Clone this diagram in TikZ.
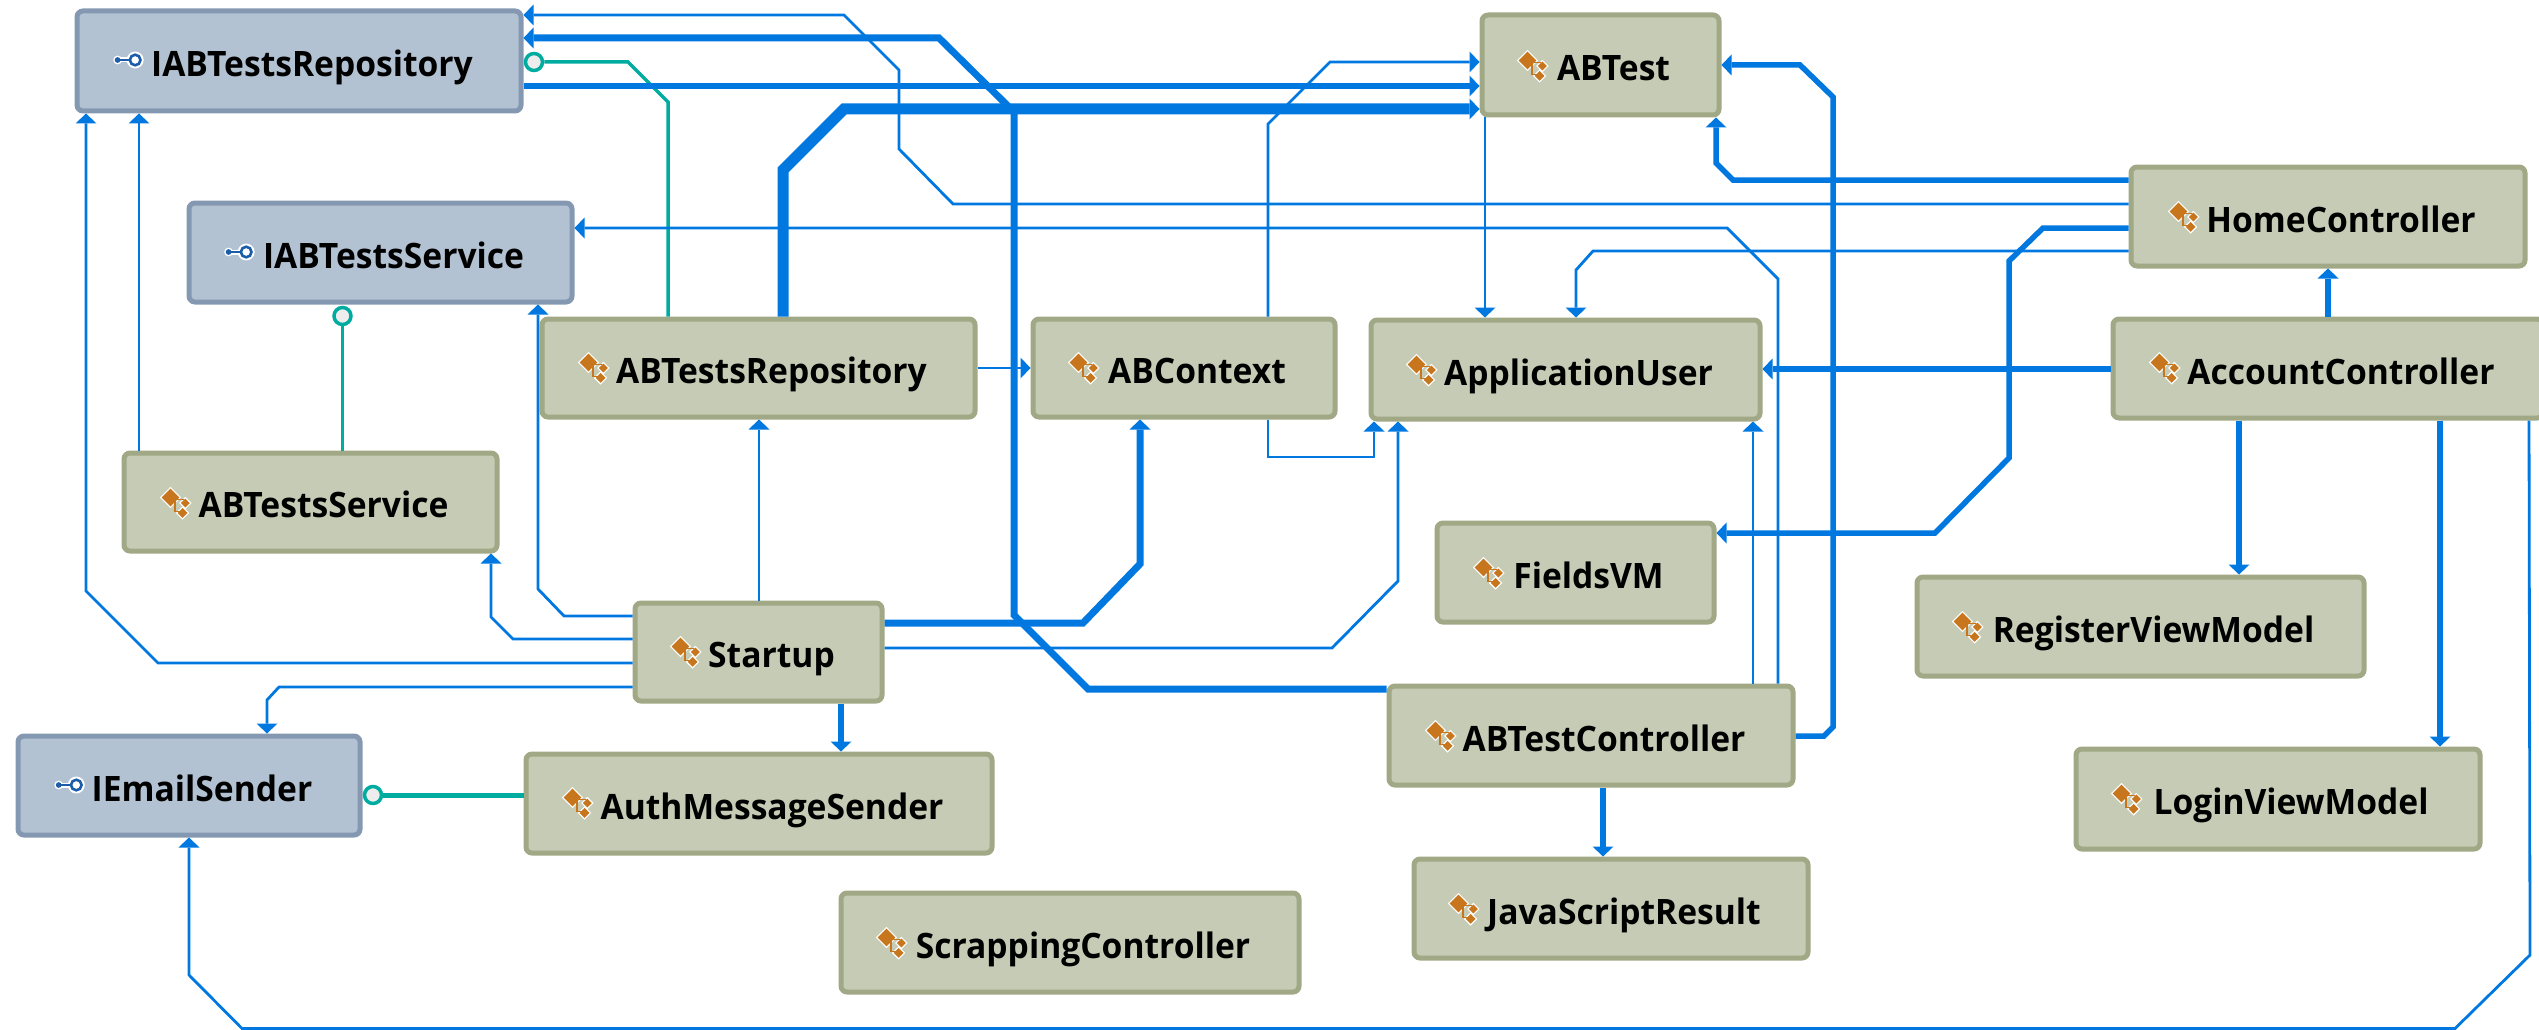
\documentclass[tikz,border=0pt]{standalone}
\usepackage{fontspec}
\setmainfont{Open Sans}[FakeStretch=0.96]
\usetikzlibrary{arrows.meta}
\definecolor{wireblue}{RGB}{0,120,224}
\definecolor{lollyteal}{RGB}{0,172,160}
\definecolor{ifill}{RGB}{178,194,211}
\definecolor{iedge}{RGB}{132,153,177}
\definecolor{cfill}{RGB}{198,203,181}
\definecolor{cedge}{RGB}{161,168,134}
\definecolor{iconor}{RGB}{200,118,30}
\definecolor{iconbl}{RGB}{27,93,168}
\tikzset{
  boxbase/.style={draw,rectangle,rounded corners=6pt,line width=5pt,outer sep=2.5pt,inner sep=0pt,
    text=black,font=\fontsize{35}{38}\selectfont\bfseries,text height=33pt,text depth=2pt},
  classbox/.style={boxbase,fill=cfill,draw=cedge},
  ifacebox/.style={boxbase,fill=ifill,draw=iedge},
  wire/.style={draw=wireblue,line join=miter,-{Triangle[length=10pt,width=21pt,line width=0pt]}},
  wirea/.style={wire,line width=2.8pt},
  wireb/.style={wire,line width=5.5pt},
  wirec/.style={wire,line width=7pt},
  wired/.style={wire,line width=11pt},
  lolly/.style={draw=lollyteal,line join=miter},
  lollyhead/.style={circle,draw=lollyteal,fill=white!93!black,line width=3.5pt,minimum size=17pt,inner sep=0pt,outer sep=1.75pt},
  classicon/.pic={
    \foreach \c/\r in {{-5,-5}/8,{8.5,0}/4,{6,9}/4.5}{
      \begin{scope}[shift={(\c)}]
        \draw[white,line width=2.5pt,fill=white] (-\r,0)--(0,-\r)--(\r,0)--(0,\r)--cycle;
      \end{scope}
    }
    \draw[iconor,line width=1.2pt] (-1,-4)--(-1,8)--(4,8) (-1,-3)--(7,-3);
    \foreach \c/\r in {{-5,-5}/8,{8.5,0}/4,{6,9}/4.5}{
      \begin{scope}[shift={(\c)}]
        \fill[iconor] (-\r,0)--(0,-\r)--(\r,0)--(0,\r)--cycle;
      \end{scope}
    }
  },
  ifaceicon/.pic={
    \draw[white,line width=5pt] (-9,0)--(2,0);
    \draw[white,line width=1.5pt,fill=white] (7,0) circle (7);
    \fill[white] (-9,0) circle (4);
    \draw[iconbl,line width=2pt] (-9,0)--(2,0);
    \fill[iconbl] (-9,0) circle (2.6);
    \draw[iconbl,line width=2.6pt,fill=white] (7,0) circle (4.8);
  }
}
\begin{document}
\begin{tikzpicture}[x=1pt,y=-1pt]
\useasboundingbox (0,0) rectangle (2539,1030);
% interfaces
\node[ifacebox,minimum width=444pt,minimum height=100pt] (irepo) at (299,61) {\hspace*{26pt}IABTestsRepository};
\node[ifacebox,minimum width=383pt,minimum height=99pt] (isvc) at (380.5,252.5) {\hspace*{26pt}IABTestsService};
\node[ifacebox,minimum width=342pt,minimum height=99pt] (iemail) at (189,785.5) {\hspace*{26pt}IEmailSender};
% classes
\node[classbox,minimum width=433pt,minimum height=98pt] (repo) at (758.5,368) {\hspace*{26pt}ABTestsRepository};
\node[classbox,minimum width=373pt,minimum height=98pt] (svc) at (310.5,502) {\hspace*{26pt}ABTestsService};
\node[classbox,minimum width=237pt,minimum height=100pt] (abtest) at (1600.5,65) {\hspace*{26pt}ABTest};
\node[classbox,minimum width=302pt,minimum height=98pt] (ctx) at (1184,368) {\hspace*{26pt}ABContext};
\node[classbox,minimum width=389pt,minimum height=99pt] (appuser) at (1565.5,369.5) {\hspace*{26pt}ApplicationUser};
\node[classbox,minimum width=394pt,minimum height=99pt] (home) at (2328,216.5) {\hspace*{26pt}HomeController};
\node[classbox,minimum width=430pt,minimum height=99pt] (account) at (2328,368.5) {\hspace*{26pt}AccountController};
\node[classbox,minimum width=247pt,minimum height=98pt] (startup) at (758.5,652) {\hspace*{26pt}Startup};
\node[classbox,minimum width=466pt,minimum height=99pt] (auth) at (759,803.5) {\hspace*{26pt}AuthMessageSender};
\node[classbox,minimum width=458pt,minimum height=99pt] (scrap) at (1070,942.5) {\hspace*{26pt}ScrappingController};
\node[classbox,minimum width=277pt,minimum height=99pt] (fields) at (1575.5,572.5) {\hspace*{26pt}FieldsVM};
\node[classbox,minimum width=447pt,minimum height=99pt] (register) at (2140.5,626.5) {\hspace*{26pt}RegisterViewModel};
\node[classbox,minimum width=404pt,minimum height=100pt] (login) at (2278,799) {\hspace*{26pt}LoginViewModel};
\node[classbox,minimum width=404pt,minimum height=99pt] (abctrl) at (1591,735.5) {\hspace*{26pt}ABTestController};
\node[classbox,minimum width=394pt,minimum height=99pt] (js) at (1611,908.5) {\hspace*{26pt}JavaScriptResult};
% icons
\foreach \p in {{127.5,60},{238.5,252},{68.6,785}} \pic[scale=1.1] at (\p) {ifaceicon};
\foreach \p in {{594,368},{176,503},{1533,66},{1084,368},{1422,370},{2184,217},{2165,368},{686,652},{578,803},{892,943},{1489,573},{1968,627},{2127,799},{1441,736},{1464,909}} \pic[scale=1.1] at (\p) {classicon};
% lollipops
\node[lollyhead] (lolrepo) at (534,62) {};
\node[lollyhead] (lolsvc) at (342.5,316) {};
\node[lollyhead] (lolemail) at (373,795) {};
\draw[lolly,line width=3.5pt] (repo.north -| 668,0) -- (668,102) -- (628,62) -- (lolrepo);
\draw[lolly,line width=3.5pt] (svc.north -| 342.5,0) -- (lolsvc);
\draw[lolly,line width=5pt] (auth.west |- 0,795) -- (lolemail);
% thin connectors
\draw[wirea] (home.west |- 0,204) -- (953,204) -- (899,149) -- (899,70) -- (844,15) -- (irepo.east |- 0,15);
\draw[wirea] (abctrl.north -| 1778,0) -- (1778,279) -- (1727,228) -- (isvc.east |- 0,228);
\draw[wirea] (abctrl.north -| 1753,0) -- (appuser.south -| 1753,0);
\draw[wirea] (svc.north -| 139,0) -- (irepo.south -| 139,0);
\draw[wirea] (startup.west |- 0,663) -- (158,663) -- (86,591) -- (irepo.south -| 86,0);
\draw[wirea] (startup.west |- 0,687) -- (279,687) -- (267,700) -- (iemail.north -| 267,0);
\draw[wirea] (startup.west |- 0,639) -- (513,639) -- (491,617) -- (svc.south -| 491,0);
\draw[wirea] (startup.west |- 0,616) -- (564,616) -- (538,589) -- (isvc.south -| 538,0);
\draw[wirea] (startup.north -| 759,0) -- (repo.south -| 759,0);
\draw[wirea] (startup.east |- 0,648) -- (1332,648) -- (1398,581) -- (appuser.south -| 1398,0);
\draw[wirea] (repo.east |- 0,368) -- (ctx.west |- 0,368);
\draw[wirea] (ctx.north -| 1268,0) -- (1268,124) -- (1330,62) -- (abtest.west |- 0,62);
\draw[wirea] (ctx.south -| 1268,0) -- (1268,457) -- (1374,457) -- (appuser.south -| 1374,0);
\draw[wirea] (abtest.south -| 1485,0) -- (appuser.north -| 1485,0);
\draw[wirea] (home.west |- 0,251) -- (1593,251) -- (1576,270) -- (appuser.north -| 1576,0);
\draw[wirea] (account.south -| 2529,0) -- (2530,955) -- (2455,1028.5) -- (242,1028.5) -- (189,975) -- (iemail.south -| 189,0);
% medium connectors
\draw[wireb] (startup.south -| 841,0) -- (auth.north -| 841,0);
\draw[wireb] (irepo.east |- 0,86) -- (abtest.west |- 0,86);
\draw[wireb] (home.west |- 0,180) -- (1733,180) -- (1716,163) -- (abtest.south -| 1716,0);
\draw[wireb] (home.west |- 0,228) -- (2043,228) -- (2009,261) -- (2009,458) -- (1935,533) -- (fields.east |- 0,533);
\draw[wireb] (account.west |- 0,369) -- (appuser.east |- 0,369);
\draw[wireb] (account.north -| 2328,0) -- (home.south -| 2328,0);
\draw[wireb] (account.south -| 2239,0) -- (register.north -| 2239,0);
\draw[wireb] (account.south -| 2440,0) -- (login.north -| 2440,0);
\draw[wireb] (abctrl.east |- 0,736) -- (1824,736) -- (1833,727) -- (1833,97) -- (1800,65) -- (abtest.east |- 0,65);
\draw[wireb] (abctrl.south -| 1603,0) -- (js.north -| 1603,0);
% thick connectors
\draw[wirec] (abctrl.west |- 0,689) -- (1088,689) -- (1014,615) -- (1014,112) -- (939,38) -- (irepo.east |- 0,38);
\draw[wirec] (startup.east |- 0,623) -- (1083,623) -- (1140,564) -- (ctx.south -| 1140,0);
\draw[wired] (repo.north -| 783,0) -- (783,170) -- (844,109) -- (abtest.west |- 0,109);
\end{tikzpicture}
\end{document}
